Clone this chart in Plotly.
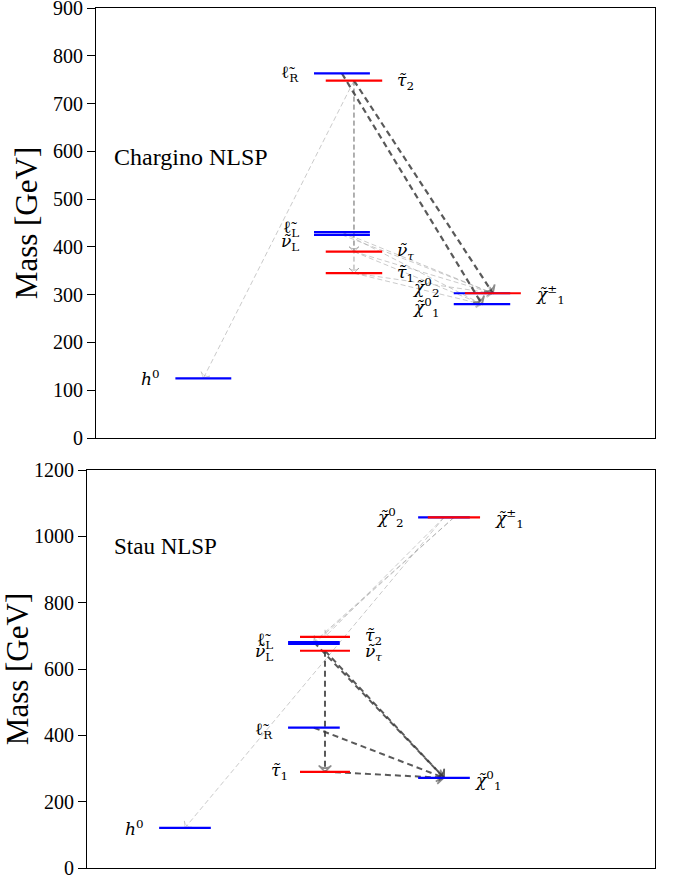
import plotly.graph_objects as go

# ---------------- data ----------------
# Chargino NLSP spectrum
top_keys   = ["h0", "lR", "tau2", "lL", "nuL", "nutau", "tau1", "chi20", "chi1pm", "chi10"]
top_mass   = [125, 763, 748, 431, 425, 390, 345, 303, 303, 280]
top_column = ["h", "B", "R", "B", "B", "R", "R", "CB", "CR", "CB"]
top_colors = ["blue", "blue", "red", "blue", "blue", "red", "red", "blue", "red", "blue"]
top_text   = ["<i>h</i><sup>0</sup>", "ℓ̃<sub>R</sub>", "<i>τ̃</i><sub>2</sub>", "ℓ̃<sub>L</sub>",
              "<i>ν̃</i><sub>L</sub>", "<i>ν̃</i><sub><i>τ</i></sub>", "<i>τ̃</i><sub>1</sub>",
              "<i>χ̃</i><sup>0</sup><sub>2</sub>", "<i>χ̃</i><sup>±</sup><sub>1</sub>",
              "<i>χ̃</i><sup>0</sup><sub>1</sub>"]
top_decays_dark  = [("lR", "chi10"), ("tau2", "chi1pm")]
top_decays_mid   = [("tau2", "nutau"), ("tau2", "tau1")]
top_decays_light = [("tau2", "h0"), ("lL", "chi1pm"), ("lL", "chi10"), ("nuL", "chi1pm"),
                    ("nutau", "chi1pm"), ("nutau", "chi10"), ("tau1", "chi1pm"), ("tau1", "chi10")]

# Stau NLSP spectrum
bot_keys   = ["h0", "lL", "nuL", "tau2", "nutau", "lR", "tau1", "chi20", "chi1pm", "chi10"]
bot_mass   = [121, 681, 676, 697, 655, 423, 290, 1057, 1057, 272]
bot_column = ["h", "B", "B", "R", "R", "B", "R", "CB", "CR", "CB"]
bot_colors = ["blue", "blue", "blue", "red", "red", "blue", "red", "blue", "red", "blue"]
bot_text   = ["<i>h</i><sup>0</sup>", "ℓ̃<sub>L</sub>", "<i>ν̃</i><sub>L</sub>", "<i>τ̃</i><sub>2</sub>",
              "<i>ν̃</i><sub><i>τ</i></sub>", "ℓ̃<sub>R</sub>", "<i>τ̃</i><sub>1</sub>",
              "<i>χ̃</i><sup>0</sup><sub>2</sub>", "<i>χ̃</i><sup>±</sup><sub>1</sub>",
              "<i>χ̃</i><sup>0</sup><sub>1</sub>"]
bot_decays_dark  = [("nutau", "tau1"), ("nutau", "chi10"), ("lL", "chi10"),
                    ("lR", "chi10"), ("tau1", "chi10")]
bot_decays_light = [("chi20", "h0"), ("chi1pm", "lL"), ("chi1pm", "nuL"), ("chi20", "tau2")]

top_ticks = [0, 100, 200, 300, 400, 500, 600, 700, 800, 900]
bot_ticks = [0, 200, 400, 600, 800, 1000, 1200]

# ---------------- layout helpers ----------------
# column extents (x axis 0..100)
top_cols = {"h": (14.2, 24.2), "B": (39.0, 49.0), "R": (41.1, 51.2), "CB": (64.0, 74.1), "CR": (66.0, 76.0)}
bot_cols = {"h": (12.7, 21.8), "B": (35.4, 44.5), "R": (37.5, 46.3), "CB": (58.3, 67.4), "CR": (60.0, 69.2)}

# label placement: side, yshift
top_lab = {"h0": ("L", 0), "lR": ("L", 0), "tau2": ("R", -1), "lL": ("L", 4), "nuL": ("L", -8),
           "nutau": ("R", 0), "tau1": ("R", 0), "chi20": ("L", 6), "chi1pm": ("R", -1), "chi10": ("L", -3)}
bot_lab = {"h0": ("L", 0), "lL": ("L", 2), "nuL": ("L", -9), "tau2": ("R", 0), "nutau": ("R", -2),
           "lR": ("L", -3), "tau1": ("L", 0), "chi20": ("L", 0), "chi1pm": ("R", -1), "chi10": ("R", -3)}
bot_xshift = {"chi10": -10, "tau1": 3}

W, H = 673, 879
fig = go.Figure()
SERIF = "Liberation Serif"
LABFONT = "DejaVu Serif"


def panel(keys, mass, column, colors, text, cols, lab, xsh, decays, xa, ya):
    pos = {}
    for k, m, c, col in zip(keys, mass, column, colors):
        x0, x1 = cols[c]
        pos[k] = ((x0 + x1) / 2, m)
    # decay arrows (drawn first, underneath)
    for group, color, width, dash, asz in decays:
        for a, b in group:
            xs = [pos[a][0], pos[b][0]]
            ys = [pos[a][1], pos[b][1]]
            fig.add_trace(go.Scatter(
                x=xs, y=ys, mode="lines+markers", xaxis=xa, yaxis=ya,
                line=dict(color=color, width=width, dash=dash),
                marker=dict(symbol="arrow-wide-open", size=[0, asz], angleref="previous",
                            color=color, line=dict(color=color, width=max(1, width * 0.8))),
                hoverinfo="skip", showlegend=False))
    # mass levels
    for k, m, c, col in zip(keys, mass, column, colors):
        x0, x1 = cols[c]
        fig.add_trace(go.Scatter(x=[x0, x1], y=[m, m], mode="lines", xaxis=xa, yaxis=ya,
                                 line=dict(color=col, width=2.2), hoverinfo="skip", showlegend=False))
    # labels
    for k, m, c, t in zip(keys, mass, column, text):
        side, ysh = lab[k]
        x0, x1 = cols[c]
        if side == "L":
            xv, anchor, xs = x0, "right", -13
        else:
            xv, anchor, xs = x1, "left", 13
        xs += xsh.get(k, 0)
        fig.add_annotation(x=xv, y=m, xref=xa, yref=ya, text=t, showarrow=False,
                           xanchor=anchor, yanchor="middle", xshift=xs, yshift=ysh,
                           font=dict(family=LABFONT, size=17, color="black"))


panel(top_keys, top_mass, top_column, top_colors, top_text, top_cols, top_lab, {},
      [(top_decays_light, "rgba(150,150,150,0.5)", 1.0, "5px,3px", 7),
       (top_decays_mid, "rgba(110,110,110,0.65)", 1.0, "5px,3px", 7),
       (top_decays_dark, "rgba(60,60,60,0.85)", 2.2, "6px,4px", 9)],
      "x", "y")
panel(bot_keys, bot_mass, bot_column, bot_colors, bot_text, bot_cols, bot_lab, bot_xshift,
      [(bot_decays_light, "rgba(150,150,150,0.5)", 1.0, "5px,3px", 7),
       (bot_decays_dark, "rgba(60,60,60,0.85)", 2.0, "6px,4px", 9)],
      "x2", "y2")

fig.add_annotation(x=0, y=589, xref="x", yref="y", text="Chargino NLSP", showarrow=False,
                   xanchor="left", yanchor="middle", xshift=16, font=dict(family=SERIF, size=24, color="black"))
fig.add_annotation(x=0, y=970, xref="x2", yref="y2", text="Stau NLSP", showarrow=False,
                   xanchor="left", yanchor="middle", xshift=25, font=dict(family=SERIF, size=23, color="black"))

axis_common = dict(showline=True, mirror=True, linecolor="black", linewidth=1, showgrid=False,
                   zeroline=False, automargin=False)
tickfont = dict(family=SERIF, size=20, color="black")
titlefont = dict(family=SERIF, size=31, color="black")
fig.update_layout(
    template="none",
    width=W, height=H, margin=dict(l=0, r=0, t=0, b=0, autoexpand=False),
    plot_bgcolor="white", paper_bgcolor="white", showlegend=False,
    xaxis=dict(domain=[96 / W, 655 / W], range=[0, 100], showticklabels=False, ticks="", anchor="y", **axis_common),
    yaxis=dict(domain=[1 - 438 / H, 1 - 8 / H], range=[0, 900], tickvals=top_ticks, ticks="outside", ticklen=8,
               tickcolor="black", anchor="x", tickfont=tickfont, ticklabeloverflow="allow",
               title=dict(text="Mass [GeV]", font=titlefont, standoff=6),
               **axis_common),
    xaxis2=dict(domain=[87 / W, 655 / W], range=[0, 100], showticklabels=False, ticks="", anchor="y2", **axis_common),
    yaxis2=dict(domain=[1 - 868 / H, 1 - 470 / H], range=[0, 1200], tickvals=bot_ticks, ticks="outside", ticklen=8,
                tickcolor="black", anchor="x2", tickfont=tickfont, ticklabeloverflow="allow",
                title=dict(text="Mass [GeV]", font=titlefont, standoff=6),
                **axis_common),
)

fig.write_html("out.html")
